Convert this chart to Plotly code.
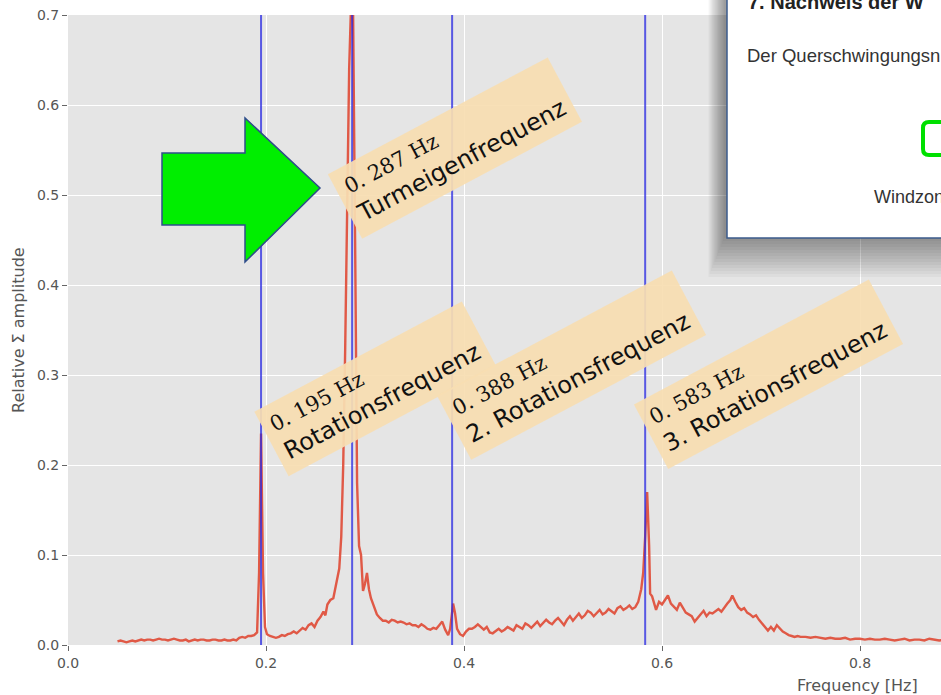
import plotly.graph_objects as go

# ---------------- data ----------------
freq_hz = [
    0.050, 0.053, 0.056, 0.059, 0.062, 0.065, 0.068, 0.071, 0.074, 0.077,
    0.080, 0.083, 0.086, 0.089, 0.092, 0.095, 0.098, 0.101, 0.104, 0.107,
    0.110, 0.113, 0.116, 0.119, 0.122, 0.125, 0.128, 0.131, 0.134, 0.137,
    0.140, 0.143, 0.146, 0.149, 0.152, 0.155, 0.158, 0.161, 0.164, 0.167,
    0.170, 0.173, 0.176, 0.179, 0.182, 0.185, 0.188, 0.191, 0.193, 0.195,
    0.197, 0.199, 0.201, 0.204, 0.207, 0.210, 0.213, 0.216, 0.219, 0.222,
    0.225, 0.228, 0.231, 0.234, 0.237, 0.240, 0.243, 0.246, 0.249, 0.252,
    0.255, 0.258, 0.260, 0.262, 0.265, 0.268, 0.270, 0.272, 0.274, 0.276,
    0.278, 0.280, 0.282, 0.284, 0.286, 0.288, 0.290, 0.292, 0.294, 0.296,
    0.298, 0.300, 0.302, 0.304, 0.306, 0.309, 0.312, 0.315, 0.318, 0.321,
    0.324, 0.327, 0.330, 0.333, 0.336, 0.339, 0.342, 0.345, 0.348, 0.351,
    0.354, 0.357, 0.360, 0.363, 0.366, 0.369, 0.372, 0.375, 0.378, 0.381,
    0.384, 0.386, 0.389, 0.391, 0.393, 0.396, 0.399, 0.402, 0.405, 0.408,
    0.411, 0.414, 0.417, 0.420, 0.423, 0.426, 0.429, 0.432, 0.435, 0.438,
    0.441, 0.444, 0.447, 0.450, 0.453, 0.456, 0.459, 0.462, 0.465, 0.468,
    0.471, 0.474, 0.477, 0.480, 0.483, 0.486, 0.489, 0.492, 0.495, 0.498,
    0.501, 0.504, 0.507, 0.510, 0.513, 0.516, 0.519, 0.522, 0.525, 0.528,
    0.531, 0.534, 0.537, 0.540, 0.543, 0.546, 0.549, 0.552, 0.555, 0.558,
    0.561, 0.564, 0.567, 0.570, 0.573, 0.576, 0.579, 0.581, 0.583, 0.585,
    0.587, 0.588, 0.590, 0.592, 0.594, 0.597, 0.600, 0.603, 0.606, 0.609,
    0.612, 0.615, 0.618, 0.621, 0.624, 0.627, 0.630, 0.633, 0.636, 0.639,
    0.642, 0.645, 0.648, 0.651, 0.654, 0.657, 0.660, 0.663, 0.666, 0.669,
    0.671, 0.674, 0.677, 0.680, 0.683, 0.686, 0.689, 0.692, 0.695, 0.698,
    0.701, 0.704, 0.707, 0.710, 0.713, 0.716, 0.719, 0.722, 0.725, 0.728,
    0.731, 0.734, 0.737, 0.740, 0.745, 0.750, 0.755, 0.760, 0.765, 0.770,
    0.775, 0.780, 0.785, 0.790, 0.795, 0.800, 0.805, 0.810, 0.815, 0.820,
    0.825, 0.830, 0.835, 0.840, 0.845, 0.850, 0.855, 0.860, 0.865, 0.870,
    0.875, 0.880, 0.885,
]
rel_amp = [
    0.004, 0.005, 0.004, 0.003, 0.004, 0.005, 0.004, 0.005, 0.006, 0.005,
    0.006, 0.006, 0.005, 0.006, 0.007, 0.006, 0.006, 0.005, 0.006, 0.007,
    0.006, 0.005, 0.005, 0.006, 0.004, 0.005, 0.006, 0.005, 0.006, 0.006,
    0.005, 0.005, 0.006, 0.006, 0.005, 0.005, 0.006, 0.005, 0.005, 0.006,
    0.005, 0.008, 0.009, 0.008, 0.010, 0.010, 0.011, 0.014, 0.080, 0.235,
    0.080, 0.020, 0.012, 0.010, 0.009, 0.008, 0.009, 0.011, 0.010, 0.012,
    0.013, 0.015, 0.013, 0.016, 0.019, 0.017, 0.022, 0.024, 0.020, 0.027,
    0.031, 0.037, 0.033, 0.045, 0.050, 0.052, 0.063, 0.070, 0.085, 0.120,
    0.200, 0.330, 0.480, 0.640, 0.715, 0.700, 0.450, 0.180, 0.110, 0.100,
    0.060, 0.068, 0.080, 0.062, 0.052, 0.043, 0.034, 0.030, 0.027, 0.027,
    0.025, 0.028, 0.027, 0.025, 0.026, 0.025, 0.023, 0.024, 0.022, 0.022,
    0.020, 0.023, 0.021, 0.018, 0.017, 0.019, 0.018, 0.022, 0.026, 0.017,
    0.011, 0.018, 0.046, 0.035, 0.018, 0.012, 0.010, 0.015, 0.018, 0.018,
    0.020, 0.023, 0.020, 0.017, 0.020, 0.014, 0.013, 0.016, 0.018, 0.015,
    0.017, 0.020, 0.018, 0.016, 0.022, 0.020, 0.018, 0.024, 0.022, 0.019,
    0.023, 0.026, 0.021, 0.024, 0.028, 0.025, 0.023, 0.027, 0.030, 0.026,
    0.022, 0.028, 0.032, 0.027, 0.031, 0.035, 0.030, 0.033, 0.038, 0.036,
    0.032, 0.035, 0.039, 0.034, 0.036, 0.040, 0.037, 0.035, 0.041, 0.043,
    0.039, 0.041, 0.044, 0.040, 0.042, 0.048, 0.062, 0.080, 0.120, 0.170,
    0.110, 0.057, 0.054, 0.045, 0.039, 0.048, 0.045, 0.050, 0.055, 0.046,
    0.042, 0.039, 0.047, 0.042, 0.036, 0.034, 0.032, 0.026, 0.030, 0.035,
    0.038, 0.032, 0.036, 0.035, 0.038, 0.040, 0.037, 0.042, 0.046, 0.050,
    0.055, 0.048, 0.042, 0.039, 0.041, 0.036, 0.034, 0.031, 0.033, 0.028,
    0.024, 0.021, 0.016, 0.020, 0.016, 0.022, 0.018, 0.015, 0.013, 0.011,
    0.010, 0.009, 0.010, 0.009, 0.009, 0.008, 0.009, 0.008, 0.007, 0.008,
    0.007, 0.007, 0.008, 0.006, 0.007, 0.007, 0.006, 0.007, 0.006, 0.006,
    0.007, 0.006, 0.005, 0.006, 0.007, 0.005, 0.006, 0.006, 0.005, 0.007,
    0.006, 0.005, 0.006,
]

marker_freqs = [0.195, 0.287, 0.388, 0.583]
marker_values = ["0. 195 Hz", "0. 287 Hz", "0. 388 Hz", "0. 583 Hz"]
marker_names = ["Rotationsfrequenz", "Turmeigenfrequenz",
                "2. Rotationsfrequenz", "3. Rotationsfrequenz"]

x_ticks = [0.0, 0.2, 0.4, 0.6, 0.8]
y_ticks = [0.0, 0.1, 0.2, 0.3, 0.4, 0.5, 0.6, 0.7]

# ---------------- layout geometry ----------------
W, H = 941, 695
ML, MR, MT, MB = 68, 0, 15, 50
PW, PH = W - ML - MR, H - MT - MB
X_MAX = PW / 990.0   # visible part of the frequency axis
Y_MAX = 0.7


def px_x(px):
    return (px - ML) / PW


def px_y(py):
    return (H - MB - py) / PH


fig = go.Figure()

fig.add_trace(go.Scatter(
    x=freq_hz, y=rel_amp, mode="lines",
    line=dict(color="#E04A35", width=2.4),
    opacity=0.9, showlegend=False, hoverinfo="skip"))

for f in marker_freqs:
    fig.add_trace(go.Scatter(
        x=[f, f], y=[0, Y_MAX], mode="lines",
        line=dict(color="rgba(40,40,225,0.75)", width=2),
        showlegend=False, hoverinfo="skip"))

# rotated labels (centre positions in data units)
label_pos = [(0.310, 0.285), (0.391, 0.552), (0.509, 0.311), (0.708, 0.301)]
annotations = []
for (lx, ly), val, name in zip(label_pos, marker_values, marker_names):
    annotations.append(dict(
        x=lx, y=ly, xref="x", yref="y", showarrow=False,
        textangle=-28, align="left",
        text=("<span style='font-family:DejaVu Serif;font-size:21px'>" + val +
              "</span><br>" + name),
        font=dict(family="DejaVu Sans", size=24, color="#111111"),
        bgcolor="rgba(247,222,178,0.93)", borderpad=8,
        xanchor="center", yanchor="middle"))

# axis titles
annotations.append(dict(
    x=px_x(18), y=0.5, xref="paper", yref="paper", showarrow=False,
    text="Relative Σ amplitude", textangle=-90,
    font=dict(family="DejaVu Sans", size=16, color="#555555"),
    xanchor="center", yanchor="middle"))
annotations.append(dict(
    x=px_x(857), y=px_y(685), xref="paper", yref="paper", showarrow=False,
    text="Frequency [Hz]",
    font=dict(family="DejaVu Sans", size=16, color="#555555"),
    xanchor="center", yanchor="middle"))

# inset texts
annotations.append(dict(
    x=px_x(746), y=px_y(2), xref="paper", yref="paper", showarrow=False,
    text="<b>7. Nachweis der W</b>",
    font=dict(family="Liberation Sans", size=20, color="#222222"),
    xanchor="left", yanchor="middle"))
annotations.append(dict(
    x=px_x(745), y=px_y(56), xref="paper", yref="paper", showarrow=False,
    text="Der Querschwingungsn",
    font=dict(family="Liberation Sans", size=18.5, color="#333333"),
    xanchor="left", yanchor="middle"))
annotations.append(dict(
    x=px_x(872), y=px_y(197), xref="paper", yref="paper", showarrow=False,
    text="Windzon",
    font=dict(family="Liberation Sans", size=18, color="#333333"),
    xanchor="left", yanchor="middle"))

shapes = []
# green arrow
arrow_pts = [(162, 153), (245, 153), (245, 118), (320, 188),
             (245, 262), (245, 225), (162, 225)]
path = "M " + " L ".join(f"{px_x(a)},{px_y(b)}" for a, b in arrow_pts) + " Z"
shapes.append(dict(type="path", path=path, xref="paper", yref="paper",
                   fillcolor="#00EE00", line=dict(color="#2E4D8A", width=1.5),
                   layer="above"))

# inset shadow (soft)
for i in range(14):
    shapes.append(dict(type="rect", xref="paper", yref="paper",
                       x0=px_x(724 - i * 1.2), x1=px_x(960),
                       y0=px_y(-10), y1=px_y(238 + i * 3.0),
                       fillcolor="rgba(0,0,0,0.03)", line=dict(width=0),
                       layer="above"))
# inset box
shapes.append(dict(type="rect", xref="paper", yref="paper",
                   x0=px_x(727), x1=px_x(960), y0=px_y(-10), y1=px_y(238),
                   fillcolor="white", line=dict(color="#3B5B8C", width=1.5),
                   layer="above"))
# green rounded rectangle in inset
gx0, gx1, gy0, gy1, r = 923, 965, 122, 155, 6
rr = [("M", gx0 + r, gy0), ("L", gx1, gy0), ("L", gx1, gy1), ("L", gx0 + r, gy1),
      ("Q", gx0, gy1, gx0, gy1 - r), ("L", gx0, gy0 + r), ("Q", gx0, gy0, gx0 + r, gy0)]
p = ""
for seg in rr:
    cmd = seg[0]
    pts = seg[1:]
    coords = " ".join(f"{px_x(pts[k])},{px_y(pts[k + 1])}" for k in range(0, len(pts), 2))
    p += f"{cmd} {coords} "
shapes.append(dict(type="path", path=p.strip(), xref="paper", yref="paper",
                   line=dict(color="#00E000", width=4), layer="above"))

fig.update_layout(
    width=W, height=H,
    margin=dict(l=ML, r=MR, t=MT, b=MB, pad=0),
    paper_bgcolor="white", plot_bgcolor="#E5E5E5",
    showlegend=False,
    annotations=annotations, shapes=shapes,
    xaxis=dict(range=[0, X_MAX], tickvals=x_ticks,
               ticktext=[f"{v:.1f}" for v in x_ticks],
               showgrid=True, gridcolor="white", gridwidth=1,
               zeroline=False, showline=False,
               ticks="outside", ticklen=5, tickcolor="#666666",
               tickfont=dict(family="DejaVu Sans", size=14, color="#555555")),
    yaxis=dict(range=[0, Y_MAX], tickvals=y_ticks,
               ticktext=[f"{v:.1f}" for v in y_ticks],
               showgrid=True, gridcolor="white", gridwidth=1,
               zeroline=False, showline=False,
               ticks="outside", ticklen=5, tickcolor="#666666",
               tickfont=dict(family="DejaVu Sans", size=14, color="#555555")),
)

fig.write_html("out.html", config={"displayModeBar": False})

# remove the browser's default page margin so the figure fills the window
with open("out.html", "r", encoding="utf-8") as fh:
    html = fh.read()
html = html.replace("<body>", '<body style="margin:0;overflow:hidden">', 1)
with open("out.html", "w", encoding="utf-8") as fh:
    fh.write(html)
